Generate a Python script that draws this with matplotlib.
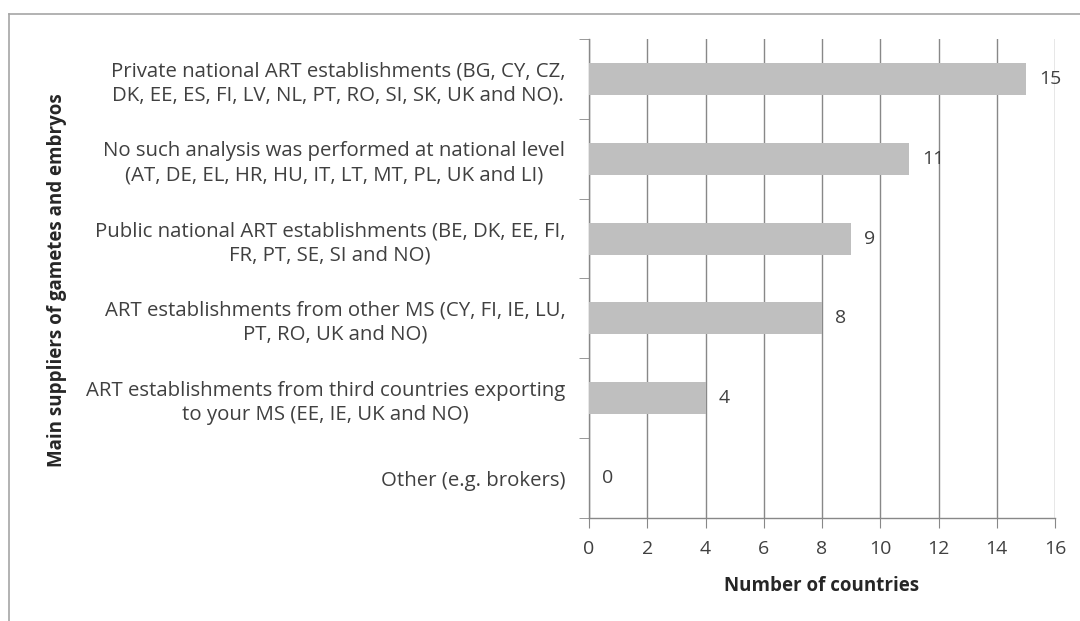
import numpy as np
import matplotlib.pyplot as plt
from matplotlib.lines import Line2D

categories = [
    "Private national ART establishments (BG, CY, CZ,\nDK, EE, ES, FI, LV, NL, PT, RO, SI, SK, UK and NO).",
    "No such analysis was performed at national level\n(AT, DE, EL, HR, HU, IT, LT, MT, PL, UK and LI)",
    "Public national ART establishments (BE, DK, EE, FI,\nFR, PT, SE, SI and NO)",
    "ART establishments from other MS (CY, FI, IE, LU,\nPT, RO, UK and NO)",
    "ART establishments from third countries exporting\nto your MS (EE, IE, UK and NO)",
    "Other (e.g. brokers)",
]
values = [15, 11, 9, 8, 4, 0]
xticks = [0, 2, 4, 6, 8, 10, 12, 14, 16]

plt.rcParams['font.family'] = ['Open Sans', 'DejaVu Sans']
text_col = '#404040'
grid_col = '#888888'
fs = 13.5

fig = plt.figure(figsize=(10.8, 6.21), dpi=100)
ax = fig.add_axes([0.5454, 0.1659, 0.4315, 0.7713])

# frame around the whole chart (only left/top visible in the crop)
fig.add_artist(Line2D([9/1080, 9/1080], [0, 1 - 14/621], transform=fig.transFigure, color='#a6a6a6', lw=1.2))
fig.add_artist(Line2D([9/1080, 1], [1 - 14/621, 1 - 14/621], transform=fig.transFigure, color='#a6a6a6', lw=1.2))

n = len(categories)
y = np.arange(n)[::-1]
ax.barh(y, values, height=0.4, color='#bfbfbf', zorder=3)

for yi, v in zip(y, values):
    ax.text(v + 0.45, yi, str(v), va='center', ha='left', fontsize=14, color=text_col, zorder=4)

ax.set_xlim(0, 16)
ax.set_ylim(-0.5, n - 0.5)
ax.set_xticks(xticks)
ax.set_xticklabels([str(t) for t in xticks], fontsize=14, color=text_col)
ax.set_yticks(y)
ax.set_yticklabels(categories, fontsize=14.7, color=text_col, multialignment='center', linespacing=1.27)
ax.set_yticks(np.arange(n + 1) - 0.5, minor=True)
ax.tick_params(axis='y', which='major', length=0, pad=17)
ax.tick_params(axis='y', which='minor', length=7, color=grid_col, direction='out')
ax.tick_params(axis='x', length=7, color=grid_col, pad=9)

ax.grid(axis='x', color=grid_col, lw=1, zorder=0)
for s in ['top', 'right']:
    ax.spines[s].set_visible(False)
for s in ['left', 'bottom']:
    ax.spines[s].set_color(grid_col)
    ax.spines[s].set_linewidth(1)

ax.set_xlabel("Number of countries", fontsize=fs, fontweight='bold', color='#262626', labelpad=13)
fig.text(57/1080, 1 - 280/621, "Main suppliers of gametes and embryos", rotation=90,
         ha='center', va='center', fontsize=fs, fontweight='bold', color='#262626')

fig.savefig("out.png", dpi=100)
